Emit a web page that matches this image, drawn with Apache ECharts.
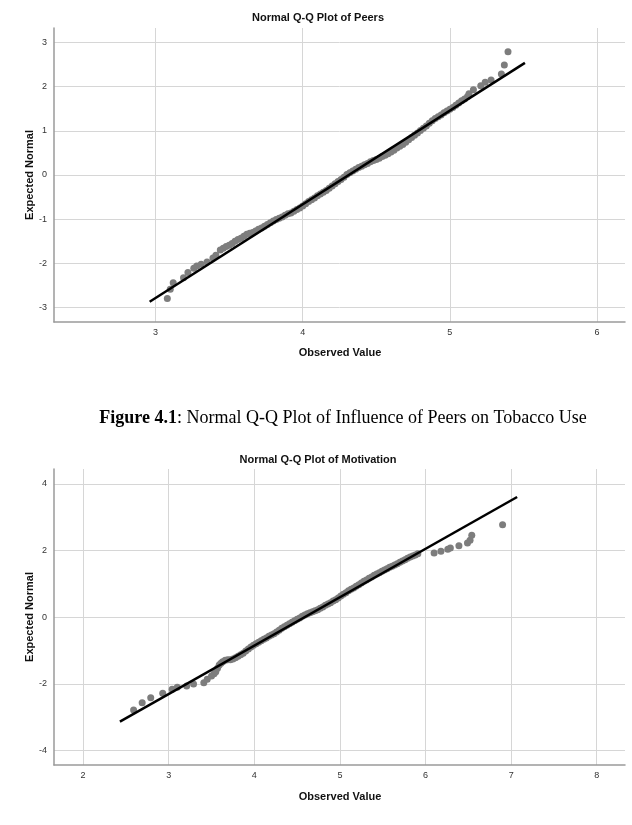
<!DOCTYPE html>
<html>
<head>
<meta charset="utf-8">
<script src="https://cdn.jsdelivr.net/npm/echarts@6/dist/echarts.min.js"></script>
<style>
html,body{margin:0;padding:0;background:#fff;}
#chart{width:632px;height:825px;}
</style>
</head>
<body>
<div id="chart"></div>
<script>
// ---------- Chart 1: Peers ----------
var peersTitle = 'Normal Q-Q Plot of Peers';
var peersXTicks = [3, 4, 5, 6];
var peersYTicks = [-3, -2, -1, 0, 1, 2, 3];
var peersXRange = [2.31, 6.19];
var peersYRange = [-3.33, 3.33];
// [observed value, expected normal]
var peersPoints = [
  [3.08,-2.80],[3.10,-2.59],[3.12,-2.44],[3.19,-2.33],[3.22,-2.21],[3.26,-2.11],[3.28,-2.06],
  [3.31,-2.02],[3.35,-1.97],[3.39,-1.88],[3.41,-1.82],[3.44,-1.70],
  [3.46,-1.66],[3.48,-1.62],[3.50,-1.59],[3.52,-1.55],[3.54,-1.50],[3.56,-1.46],[3.58,-1.43],[3.60,-1.39],[3.62,-1.34],[3.64,-1.32],
  [3.66,-1.30],[3.68,-1.27],[3.70,-1.23],[3.72,-1.20],[3.74,-1.16],[3.76,-1.12],[3.78,-1.08],[3.80,-1.04],[3.82,-1.01],[3.84,-0.98],
  [3.86,-0.95],[3.88,-0.91],[3.90,-0.88],[3.92,-0.86],[3.94,-0.82],[3.96,-0.78],[3.98,-0.75],[4.00,-0.70],[4.02,-0.65],[4.04,-0.60],
  [4.06,-0.56],[4.08,-0.52],[4.10,-0.47],[4.12,-0.43],[4.14,-0.39],[4.16,-0.35],[4.18,-0.30],[4.20,-0.25],[4.22,-0.20],[4.24,-0.15],
  [4.26,-0.10],[4.28,-0.05],[4.30,0.01],[4.32,0.05],[4.34,0.09],[4.36,0.13],[4.38,0.17],[4.40,0.20],[4.42,0.23],[4.44,0.26],
  [4.46,0.30],[4.48,0.33],[4.50,0.35],[4.52,0.38],[4.54,0.42],[4.56,0.45],[4.58,0.48],[4.60,0.52],[4.62,0.56],[4.64,0.61],
  [4.66,0.65],[4.68,0.69],[4.70,0.74],[4.72,0.80],[4.74,0.85],[4.76,0.90],[4.78,0.95],[4.80,1.01],[4.82,1.06],[4.84,1.11],
  [4.86,1.17],[4.88,1.23],[4.90,1.28],[4.92,1.32],[4.94,1.36],[4.96,1.41],[4.98,1.45],[5.00,1.49],[5.02,1.53],[5.04,1.58],
  [5.06,1.63],[5.08,1.68],[5.10,1.72],[5.12,1.78],
  [5.13,1.84],[5.16,1.93],[5.21,2.02],[5.24,2.10],[5.28,2.15],[5.35,2.29],[5.37,2.49],[5.395,2.79]
];
var peersLine = [[2.96,-2.87],[5.51,2.54]];

// ---------- Chart 2: Motivation ----------
var motivTitle = 'Normal Q-Q Plot of Motivation';
var motivXTicks = [2, 3, 4, 5, 6, 7, 8];
var motivYTicks = [-4, -2, 0, 2, 4];
var motivXRange = [1.66, 8.33];
var motivYRange = [-4.43, 4.45];
var motivPoints = [
  [2.59,-2.78],[2.69,-2.56],[2.79,-2.41],[2.93,-2.28],[3.04,-2.16],[3.10,-2.10],[3.21,-2.06],[3.29,-2.00],
  [3.41,-1.96],[3.45,-1.86],[3.50,-1.76],[3.53,-1.69],[3.55,-1.63],[3.57,-1.53],[3.59,-1.43],[3.61,-1.38],
  [3.63,-1.33],[3.66,-1.29],[3.69,-1.27],
  [3.72,-1.27],[3.75,-1.25],[3.78,-1.21],[3.81,-1.17],[3.84,-1.12],[3.87,-1.08],[3.90,-1.01],[3.93,-0.95],
  [3.96,-0.89],[3.99,-0.84],[4.02,-0.79],[4.05,-0.75],[4.08,-0.70],[4.11,-0.66],[4.14,-0.62],[4.17,-0.57],
  [4.20,-0.53],[4.23,-0.49],[4.26,-0.44],[4.29,-0.39],[4.32,-0.33],[4.35,-0.28],[4.38,-0.24],[4.41,-0.19],
  [4.44,-0.15],[4.47,-0.10],[4.50,-0.06],[4.53,-0.02],[4.56,0.03],[4.59,0.07],[4.62,0.11],[4.65,0.14],
  [4.68,0.17],[4.71,0.20],[4.74,0.23],[4.77,0.27],[4.80,0.31],[4.83,0.36],[4.86,0.40],[4.89,0.44],
  [4.92,0.49],[4.95,0.53],[4.98,0.58],[5.01,0.64],[5.04,0.69],[5.07,0.74],[5.10,0.80],[5.13,0.84],
  [5.16,0.88],[5.19,0.93],[5.22,0.98],[5.25,1.03],[5.28,1.08],[5.31,1.12],[5.34,1.17],[5.37,1.21],
  [5.40,1.26],[5.43,1.30],[5.46,1.34],[5.49,1.38],[5.52,1.42],[5.55,1.46],[5.58,1.50],[5.61,1.53],
  [5.64,1.57],[5.67,1.61],[5.70,1.65],[5.73,1.69],[5.76,1.73],[5.79,1.77],[5.82,1.81],[5.85,1.84],
  [5.88,1.87],[5.91,1.91],
  [6.10,1.93],[6.18,1.98],[6.26,2.04],[6.29,2.08],[6.39,2.15],[6.49,2.23],[6.52,2.31],[6.54,2.46],[6.90,2.78]
];
var motivLine = [[2.43,-3.13],[7.07,3.61]];

var axisNameX = 'Observed Value';
var axisNameY = 'Expected Normal';
var captionBold = 'Figure 4.1';
var captionRest = ': Normal Q-Q Plot of Influence of Peers on Tobacco Use';

var FONT = '"Liberation Sans", Arial, sans-serif';

function xAxisCfg(grid, range, ticks) {
  return {
    gridIndex: grid, type: 'value', min: range[0], max: range[1],
    axisLine: { show: true, onZero: false, lineStyle: { color: '#9a9a9a', width: 1.5 } },
    axisTick: { show: false, customValues: ticks },
    axisLabel: { customValues: ticks, color: '#333', fontSize: 9, fontFamily: FONT, margin: 6 },
    splitLine: { show: true, lineStyle: { color: '#d6d6d6', width: 1 } }
  };
}
function yAxisCfg(grid, range, ticks) {
  return {
    gridIndex: grid, type: 'value', min: range[0], max: range[1],
    axisLine: { show: true, onZero: false, lineStyle: { color: '#9a9a9a', width: 1.5 } },
    axisTick: { show: false, customValues: ticks },
    axisLabel: { customValues: ticks, color: '#333', fontSize: 9, fontFamily: FONT, margin: 7 },
    splitLine: { show: true, lineStyle: { color: '#d6d6d6', width: 1 } }
  };
}

var chart = echarts.init(document.getElementById('chart'), null, { renderer: 'canvas' });
var option = {
  backgroundColor: '#fff',
  animation: false,
  grid: [
    { left: 54, top: 28, width: 571, height: 294 },
    { left: 54, top: 469, width: 571, height: 296 }
  ],
  xAxis: [ xAxisCfg(0, peersXRange, peersXTicks), xAxisCfg(1, motivXRange, motivXTicks) ],
  yAxis: [ yAxisCfg(0, peersYRange, peersYTicks), yAxisCfg(1, motivYRange, motivYTicks) ],
  series: [
    { type: 'scatter', xAxisIndex: 0, yAxisIndex: 0, data: peersPoints, symbol: 'circle', symbolSize: 7,
      itemStyle: { color: '#7d7d7d', opacity: 1 }, z: 2 },
    { type: 'line', xAxisIndex: 0, yAxisIndex: 0, data: peersLine, symbol: 'none',
      lineStyle: { color: '#000', width: 2.5 }, z: 3 },
    { type: 'scatter', xAxisIndex: 1, yAxisIndex: 1, data: motivPoints, symbol: 'circle', symbolSize: 7,
      itemStyle: { color: '#7d7d7d', opacity: 1 }, z: 2 },
    { type: 'line', xAxisIndex: 1, yAxisIndex: 1, data: motivLine, symbol: 'none',
      lineStyle: { color: '#000', width: 2.5 }, z: 3 }
  ],
  graphic: [
    { type: 'text', x: 318, y: 18, style: { text: peersTitle, font: 'bold 11px ' + FONT, fill: '#111', align: 'center', verticalAlign: 'middle' } },
    { type: 'text', x: 30, y: 175, rotation: Math.PI / 2, style: { text: axisNameY, font: 'bold 11px ' + FONT, fill: '#111', align: 'center', verticalAlign: 'middle' } },
    { type: 'text', x: 340, y: 353, style: { text: axisNameX, font: 'bold 11px ' + FONT, fill: '#111', align: 'center', verticalAlign: 'middle' } },
    { type: 'text', x: 343, y: 418, style: {
        text: '{b|' + captionBold + '}{r|' + captionRest + '}', align: 'center', verticalAlign: 'middle',
        rich: {
          b: { font: 'bold 18px "Liberation Serif", "Times New Roman", serif', fill: '#000' },
          r: { font: '18px "Liberation Serif", "Times New Roman", serif', fill: '#000' }
        } } },
    { type: 'text', x: 318, y: 460, style: { text: motivTitle, font: 'bold 11px ' + FONT, fill: '#111', align: 'center', verticalAlign: 'middle' } },
    { type: 'text', x: 30, y: 617, rotation: Math.PI / 2, style: { text: axisNameY, font: 'bold 11px ' + FONT, fill: '#111', align: 'center', verticalAlign: 'middle' } },
    { type: 'text', x: 340, y: 797, style: { text: axisNameX, font: 'bold 11px ' + FONT, fill: '#111', align: 'center', verticalAlign: 'middle' } }
  ]
};
chart.setOption(option);
</script>
</body>
</html>
